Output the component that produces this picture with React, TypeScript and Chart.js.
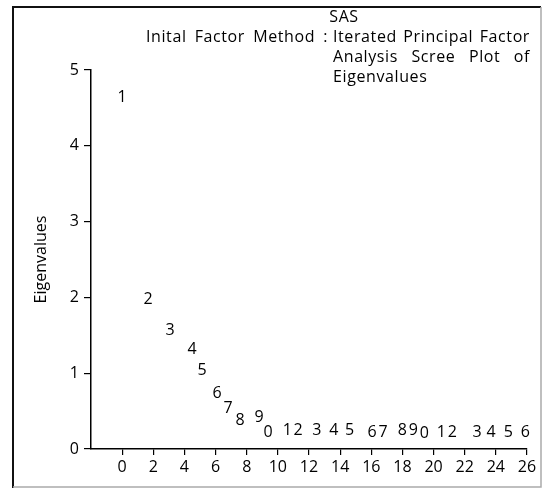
import React, { useEffect, useRef } from "react";
import { Chart, registerables } from "chart.js";

Chart.register(...registerables);

// Scree plot data
const factorX = [0, 1.67, 3.08, 4.49, 5.13, 6.1, 6.8, 7.57, 8.8, 9.37, 10.6, 11.3, 12.5, 13.6, 14.6, 16.05, 16.75, 18.0, 18.7, 19.4, 20.5, 21.2, 22.8, 23.7, 24.8, 25.9];
const eigenvalues = [4.64, 1.97, 1.56, 1.31, 1.03, 0.73, 0.53, 0.38, 0.41, 0.22, 0.24, 0.24, 0.24, 0.24, 0.24, 0.225, 0.225, 0.25, 0.25, 0.21, 0.225, 0.225, 0.225, 0.225, 0.225, 0.225];
const pointLabels = ["1", "2", "3", "4", "5", "6", "7", "8", "9", "0", "1", "2", "3", "4", "5", "6", "7", "8", "9", "0", "1", "2", "3", "4", "5", "6"];

const titleTop = "SAS";
const titleLeft = ["Inital", "Factor", "Method", ":"];
const titleLine1 = ["Iterated", "Principal", "Factor"];
const titleLine2 = ["Analysis", "Scree", "Plot", "of"];
const titleLine3 = "Eigenvalues";
const yTitle = "Eigenvalues";

const FONT = "'Open Sans', Lato, sans-serif";

function justify(ctx: CanvasRenderingContext2D, words: string[], left: number, right: number, y: number) {
  const widths = words.map((w) => ctx.measureText(w).width);
  const total = widths.reduce((a, b) => a + b, 0);
  const gap = (right - left - total) / (words.length - 1);
  let x = left;
  words.forEach((w, i) => {
    ctx.fillText(w, x, y);
    x += widths[i] + gap;
  });
}

const decorPlugin = {
  id: "decor",
  afterDraw(chart: any) {
    const ctx: CanvasRenderingContext2D = chart.ctx;
    ctx.save();
    // frame
    ctx.strokeStyle = "#111";
    ctx.lineWidth = 2;
    ctx.beginPath();
    ctx.moveTo(13, 488);
    ctx.lineTo(13, 7);
    ctx.lineTo(541, 7);
    ctx.stroke();
    ctx.strokeStyle = "#aaa";
    ctx.lineWidth = 1.5;
    ctx.beginPath();
    ctx.moveTo(541, 7);
    ctx.lineTo(541, 487);
    ctx.lineTo(13, 487);
    ctx.stroke();

    // title
    ctx.fillStyle = "#000";
    ctx.font = `16px ${FONT}`;
    try {
      (ctx as any).letterSpacing = "0.6px";
    } catch (e) {}
    ctx.textBaseline = "middle";
    ctx.textAlign = "left";
    const sasW = ctx.measureText(titleTop).width;
    ctx.fillText(titleTop, 344 - sasW / 2, 17);
    justify(ctx, titleLeft, 146, 328, 37);
    const colX = 333;
    justify(ctx, titleLine1, colX, 530, 37);
    justify(ctx, titleLine2, colX, 530, 57);
    ctx.fillText(titleLine3, colX, 77);
    try {
      (ctx as any).letterSpacing = "0px";
    } catch (e) {}

    // point digits
    const meta = chart.getDatasetMeta(0);
    ctx.textAlign = "center";
    ctx.textBaseline = "middle";
    meta.data.forEach((el: any, i: number) => {
      ctx.fillText(pointLabels[i], el.x, el.y);
    });
    ctx.restore();
  },
};

export default function App() {
  const ref = useRef<HTMLCanvasElement | null>(null);
  useEffect(() => {
    if (!ref.current) return;
    const chart = new Chart(ref.current, {
      type: "scatter",
      data: {
        datasets: [
          {
            data: factorX.map((x, i) => ({ x, y: eigenvalues[i] })),
            pointRadius: 0,
            pointHoverRadius: 0,
            showLine: false,
          },
        ],
      },
      options: {
        animation: false,
        responsive: false,
        devicePixelRatio: 1,
        layout: { padding: { left: 0, top: 70, right: 16, bottom: 0 } },
        plugins: { legend: { display: false }, tooltip: { enabled: false }, title: { display: false } },
        scales: {
          x: {
            type: "linear",
            min: -2,
            max: 26,
            afterBuildTicks: (s: any) => {
              s.ticks = s.ticks.filter((t: any) => t.value >= 0);
            },
            afterFit: (s: any) => {
              s.height = 40;
            },
            border: { color: "#000", width: 1.5 },
            grid: { drawOnChartArea: false, drawTicks: true, tickLength: 6, color: "#000", lineWidth: 1.2 },
            ticks: { stepSize: 2, color: "#000", font: { family: FONT, size: 16 }, padding: 3, maxRotation: 0, autoSkip: false },
          },
          y: {
            type: "linear",
            min: 0,
            max: 5,
            afterFit: (s: any) => {
              s.width = 91;
            },
            border: { color: "#000", width: 1.5 },
            grid: { drawOnChartArea: false, drawTicks: true, tickLength: 7, color: "#000", lineWidth: 1.2 },
            ticks: { stepSize: 1, color: "#000", font: { family: FONT, size: 16 }, padding: 5 },
            title: { display: true, text: yTitle, color: "#000", font: { family: FONT, size: 16 }, padding: { top: 32, bottom: 0 } },
          },
        },
      },
      plugins: [decorPlugin],
    });
    return () => chart.destroy();
  }, []);
  return (
    <div style={{ position: "fixed", left: 0, top: 0, width: 543, height: 489, background: "#fff" }}>
      <canvas ref={ref} width={543} height={489} />
    </div>
  );
}
